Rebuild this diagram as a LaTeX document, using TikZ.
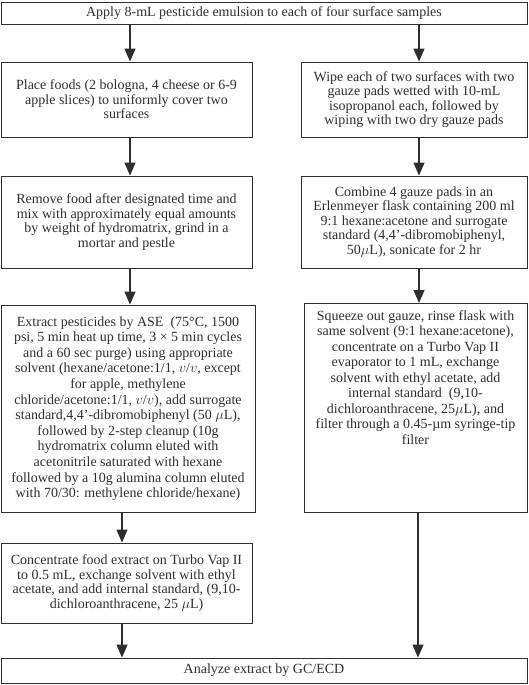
\documentclass[tikz,border=0pt]{standalone}
\usepackage{fontspec}
\setmainfont{Liberation Serif}
\usetikzlibrary{arrows.meta}
\definecolor{ink}{HTML}{2E2E2E}
\begin{document}
\begin{tikzpicture}[x=1pt,y=-1pt,
  box/.style={draw=ink, line width=0.9pt, rectangle, inner sep=0pt, align=center, text=ink,
    font=\fontsize{14}{14.4}\selectfont},
  flow/.style={draw=ink, line width=1.4pt, -{Triangle[width=11pt,length=13pt]}}]
\useasboundingbox (0,0) rectangle (529,685);
\coordinate (cl) at (130,0);
\coordinate (cl2) at (122,0);
\coordinate (cr) at (419,0);
\coordinate (cr2) at (418,0);

\node[box, minimum width=526pt, minimum height=22pt] (top) at (264,13)
  {Apply 8-mL pesticide emulsion to each of four surface samples};

\node[box, minimum width=251pt, minimum height=75pt] (L1) at (126.5,99.5)
  {Place foods (2 bologna, 4 cheese or 6-9\\ apple slices) to uniformly cover two\\ surfaces};

\node[box, minimum width=226pt, minimum height=75pt] (R1) at (414,99.5)
  {Wipe each of two surfaces with two\\ gauze pads wetted with 10-mL\\ isopropanol each, followed by\\ wiping with two dry gauze pads};

\node[box, minimum width=251pt, minimum height=92pt] (L2) at (126.5,222)
  {Remove food after designated time and\\ mix with approximately equal amounts\\ by weight of hydromatrix, grind in a\\ mortar and pestle};

\node[box, minimum width=226pt, minimum height=92pt] (R2) at (414,222)
  {Combine 4 gauze pads in an\\ Erlenmeyer flask containing 200 ml\\ 9:1 hexane:acetone and surrogate\\ standard (4,4'-dibromobiphenyl,\\ 50$\mu$L), sonicate for 2 hr};

\node[box, minimum width=254pt, minimum height=207pt, font=\fontsize{14}{15.6}\selectfont] (L3) at (128,408.5)
  {Extract pesticides by ASE\ \ (75°C, 1500\\ psi, 5 min heat up time, 3 × 5 min cycles\\ and a 60 sec purge) using appropriate\\ solvent (hexane/acetone:1/1, $v$/$v$, except\\ for apple, methylene\\ chloride/acetone:1/1, $v$/$v$), add surrogate\\ standard,4,4'-dibromobiphenyl (50 $\mu$L),\\ followed by 2-step cleanup (10g\\ hydromatrix column eluted with\\ acetonitrile saturated with hexane\\ followed by a 10g alumina column eluted\\ with 70/30: methylene chloride/hexane)};

\node[box, minimum width=223pt, minimum height=209pt, anchor=north] (R3) at (415.5,303)
  {\begin{minipage}[t][207pt][t]{221pt}\centering\fontsize{14}{15.5}\selectfont
   \vspace*{6pt}Squeeze out gauze, rinse flask with\\ same solvent (9:1 hexane:acetone),\\ concentrate on a Turbo Vap II\\ evaporator to 1 mL, exchange\\ solvent with ethyl acetate, add\\ internal standard\ \ (9,10-\\ dichloroanthracene, 25$\mu$L), and\\ filter through a 0.45-µm syringe-tip\\ filter\end{minipage}};

\node[box, minimum width=251pt, minimum height=80pt] (L4) at (126.5,583)
  {Concentrate food extract on Turbo Vap II\\ to 0.5 mL, exchange solvent with ethyl\\ acetate, and add internal standard, (9,10-\\ dichloroanthracene, 25 $\mu$L)};

\node[box, minimum width=526pt, minimum height=25pt] (bot) at (264,670.5)
  {Analyze extract by GC/ECD};

\draw[flow] (top.south -| cl) -- (L1.north -| cl);
\draw[flow] (top.south -| cr) -- (R1.north -| cr);
\draw[flow] (L1.south -| cl) -- (L2.north -| cl);
\draw[flow] (R1.south -| cr) -- (R2.north -| cr);
\draw[flow] (L2.south -| cl) -- (L3.north -| cl);
\draw[flow] (R2.south -| cr) -- (R3.north -| cr);
\draw[flow] (L3.south -| cl2) -- (L4.north -| cl2);
\draw[flow] (L4.south -| cl2) -- (bot.north -| cl2);
\draw[flow] (R3.south -| cr2) -- (bot.north -| cr2);
\end{tikzpicture}
\end{document}
